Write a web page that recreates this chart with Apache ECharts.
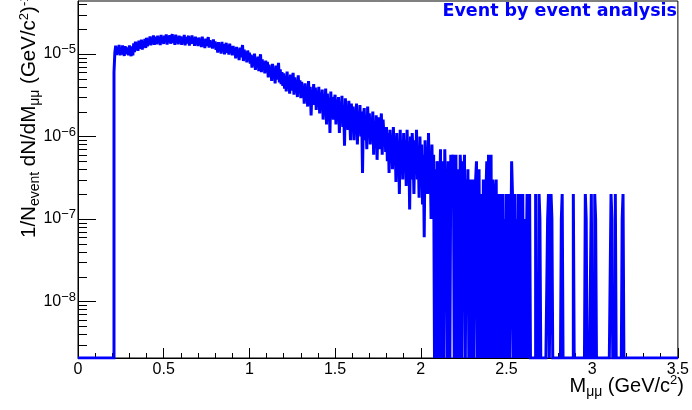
<!DOCTYPE html>
<html>
<head>
<meta charset="utf-8">
<script src="https://cdn.jsdelivr.net/npm/echarts@6/dist/echarts.min.js"></script>
<style>
  html, body { margin: 0; padding: 0; background: #ffffff; }
  #chart { width: 692px; height: 410px; }
</style>
</head>
<body>
<div id="chart"></div>
<script>
// Dimuon invariant-mass spectrum, 5 MeV/c^2 bins from 0 to 3.5 GeV/c^2
const massMin = 0;
const massMax = 3.5;
const binWidth = 0.005;

// 1/N_event dN/dM per bin, in units of 1e-7 (GeV/c^2)^-1 ; one row = 0.1 GeV/c^2
const densityE7 = [
  0, 0, 0, 0, 0, 0, 0, 0, 0, 0, 0, 0, 0, 0, 0, 0, 0, 0, 0, 0,
  0, 0, 0, 0, 0, 0, 0, 0, 0, 0, 0, 0, 0, 0, 0, 0, 0, 0, 0, 0,
  0, 0, 60, 104, 126, 97, 121, 100, 129, 96, 118, 98, 127, 102, 95, 124, 131, 99, 120, 96,
  127, 101, 94, 123, 96, 134, 105, 141, 112, 138, 109, 145, 116, 128, 149, 113, 142, 120, 152, 118,
  157, 124, 148, 130, 163, 127, 155, 134, 168, 129, 150, 162, 131, 166, 137, 159, 128, 170, 136, 161,
  132, 167, 141, 172, 130, 164, 138, 169, 133, 160, 174, 135, 165, 129, 171, 140, 158, 131, 166, 137,
  163, 129, 157, 138, 170, 127, 161, 134, 152, 166, 126, 159, 132, 168, 135, 150, 125, 162, 131, 156,
  124, 158, 130, 149, 121, 162, 127, 145, 118, 153, 125, 141, 160, 119, 147, 122, 138, 116, 150, 120,
  142, 112, 136, 104, 139, 115, 128, 101, 140, 109, 131, 99, 124, 136, 103, 127, 98, 133, 107, 121,
  96, 125, 101, 118, 88, 122, 94, 112, 84, 119, 91, 108, 128, 82, 113, 87, 106, 79, 110, 85,
  104, 76, 98, 68, 95, 72, 101, 64, 89, 70, 93, 62, 84, 99, 60, 86, 66, 79, 58, 83,
  63, 80, 52, 74, 57, 69, 47, 76, 51, 66, 44, 72, 49, 62, 78, 45, 65, 43, 60, 41,
  58, 38, 54, 35, 61, 40, 50, 33, 56, 36, 47, 59, 32, 52, 37, 45, 30, 55, 34, 48,
  29, 46, 33, 41, 25, 44, 30, 38, 23, 47, 28, 40, 18, 36, 27, 43, 24, 39, 21, 35,
  26, 40, 19, 34, 23, 37, 16, 31, 22, 38, 14, 33, 20, 29, 11, 35, 18, 30, 16, 27,
  32, 14, 28, 19, 30, 11, 26, 17, 31, 13, 24, 7.7, 29, 15, 22, 12, 27, 18, 9, 25,
  13, 23, 9, 21, 15, 25, 8, 19, 12, 24, 10, 20, 3.6, 17, 22, 9, 18, 7, 23, 11,
  19, 8, 16, 11, 20, 6, 15, 9, 18, 5.2, 14, 17, 7, 12, 19, 6, 16, 10, 13, 6.5,
  13, 5, 11, 3.6, 12, 7, 9, 4, 13, 6, 10, 2.8, 11, 5, 8, 2, 12, 4, 9, 3,
  11, 4, 9, 2.5, 12, 5, 8, 1.3, 10, 3, 11, 6, 2, 9, 4, 12, 3, 7, 1.8, 10,
  3, 8, 1.5, 6, 0.6, 9, 4, 7, 2, 11, 3, 5, 1, 8, 2, 6, 0, 4, 0, 5,
  4, 0, 2, 7, 0, 5, 3, 0, 7, 2, 4, 0, 5, 3, 0, 6, 2, 4, 6, 0,
  3, 6, 0, 4, 2, 0, 6, 3, 0, 5, 2, 6, 0, 3, 1, 4, 0, 2, 3, 0,
  2, 3, 0, 1, 3, 5, 0, 2, 4, 0, 1, 2, 0, 3, 1, 0, 2, 5, 0, 6,
  2, 0, 6, 0, 3, 1, 0, 2, 3, 0, 1, 2, 0, 2, 0, 1, 2, 0, 1, 0,
  2, 0, 1, 2, 0, 0, 5, 2, 0, 1, 2, 0, 1, 0, 2, 0, 2, 1, 0, 2,
  0, 1, 0, 0, 2, 0, 1, 2, 0, 0, 0, 0, 0, 0, 2, 0, 0, 0, 2, 1,
  0, 0, 0, 0, 0, 0, 0, 0, 1, 2, 0, 0, 2, 1, 0, 0, 0, 0, 0, 0,
  0, 0, 0, 0, 1, 2, 0, 0, 0, 0, 0, 0, 0, 0, 0, 0, 0, 0, 2, 0,
  0, 0, 0, 0, 0, 0, 0, 0, 0, 0, 0, 0, 2, 1, 0, 0, 0, 0, 0, 2,
  0, 0, 0, 2, 1, 0, 0, 0, 0, 0, 0, 0, 0, 0, 0, 0, 0, 0, 0, 0,
  0, 0, 2, 1, 0, 0, 0, 2, 0, 0, 0, 0, 0, 0, 0, 1, 2, 0, 0, 0,
  0, 0, 0, 0, 0, 0, 0, 0, 0, 0, 0, 0, 0, 0, 0, 0, 0, 0, 0, 0,
  0, 0, 0, 0, 0, 0, 0, 0, 0, 0, 0, 0, 0, 0, 0, 0, 0, 0, 0, 0,
  0, 0, 0, 0, 0, 0, 0, 0, 0, 0, 0, 0, 0, 0, 0, 0, 0, 0, 0, 0
];
const densityUnit = 1e-7;

// Axis ranges and tick steps
const xRange = [0, 3.5];
const xMajorStep = 0.5;
const yRange = [2.06e-9, 4.38e-5];
const yMinorMultipliers = [2, 3, 4, 5, 6, 7, 8, 9];

// Texts
const titleText = 'Event by event analysis';
const xTitle = 'M{sub|\u03bc\u03bc} (GeV/c{sup|2})';
const yTitle = '1/N{sub|event} dN/dM{sub|\u03bc\u03bc} (GeV/c{sup|2}){sup|-1}';

const FONT = '"Liberation Sans", Arial, Helvetica, sans-serif';
const TITLE_FONT = '"DejaVu Sans", "Liberation Sans", sans-serif';
const BLUE = '#0000ff';

// Histogram outline: each bin contributes its low and high edge at the bin height,
// so neighbouring bins are joined by vertical segments.
// Empty bins sit on the bottom of the frame, as in a log-scale histogram.
const histPoints = [];
densityE7.forEach((d, i) => {
  const lo = +(massMin + i * binWidth).toFixed(4);
  const hi = +(massMin + (i + 1) * binWidth).toFixed(4);
  const v = d > 0 ? d * densityUnit : yRange[0];
  histPoints.push([lo, v], [hi, v]);
});

// Log-axis minor tick values (2..9 x 10^n) inside the visible range
const yMinorTicks = [];
for (let e = -10; e <= -4; e++) {
  yMinorMultipliers.forEach(m => {
    const v = m * Math.pow(10, e);
    if (v > yRange[0] && v < yRange[1]) yMinorTicks.push([xRange[0], v]);
  });
}

const chart = echarts.init(document.getElementById('chart'), null, { renderer: 'canvas' });

const option = {
  backgroundColor: '#ffffff',
  animation: false,
  title: {
    text: titleText,
    right: 15,
    top: 2,
    padding: 0,
    textStyle: { color: BLUE, fontFamily: TITLE_FONT, fontWeight: 'bold', fontSize: 17.5 }
  },
  grid: {
    left: 78, right: 10, top: 1, bottom: 52,
    show: true, borderColor: '#000000', borderWidth: 1, backgroundColor: 'transparent'
  },
  xAxis: {
    type: 'value',
    min: xRange[0], max: xRange[1], interval: xMajorStep,
    axisLine: { show: true, onZero: false, lineStyle: { color: '#000000', width: 1 } },
    axisTick: { show: true, inside: true, length: 10, lineStyle: { color: '#000000', width: 1 } },
    minorTick: { show: true, splitNumber: 5, length: 5, lineStyle: { color: '#000000', width: 1 } },
    splitLine: { show: false },
    minorSplitLine: { show: false },
    axisLabel: { color: '#000000', fontFamily: FONT, fontSize: 16, margin: 4, showMinLabel: true, showMaxLabel: true }
  },
  yAxis: {
    type: 'log', logBase: 10,
    min: yRange[0], max: yRange[1],
    axisLine: { show: true, onZero: false, lineStyle: { color: '#000000', width: 1 } },
    axisTick: { show: true, inside: true, length: 18, lineStyle: { color: '#000000', width: 1 } },
    splitLine: { show: false },
    axisLabel: {
      color: '#000000', fontFamily: FONT, margin: 2,
      showMinLabel: false, showMaxLabel: false,
      formatter: v => {
        const lg = Math.log10(v);
        const e = Math.round(lg);
        if (Math.abs(lg - e) > 1e-6) return '';
        return '{b|10}{s|' + (e < 0 ? '\u2212' : '') + Math.abs(e) + '}';
      },
      rich: {
        b: { fontFamily: FONT, fontSize: 16, color: '#000000' },
        s: { fontFamily: FONT, fontSize: 13, color: '#000000', padding: [0, 0, 8, 0] }
      }
    }
  },
  graphic: [
    {
      type: 'text', x: 684, y: 386, silent: true,
      style: {
        text: xTitle, align: 'right', verticalAlign: 'middle',
        fontFamily: FONT, fontSize: 20, fill: '#000000',
        rich: {
          sub: { fontFamily: FONT, fontSize: 14, fill: '#000000', padding: [12, 0, 0, 0] },
          sup: { fontFamily: FONT, fontSize: 13, fill: '#000000', padding: [0, 0, 11, 0] }
        }
      }
    },
    {
      type: 'text', x: 29.5, y: 238, rotation: Math.PI / 2, silent: true,
      style: {
        text: yTitle, align: 'left', verticalAlign: 'middle',
        fontFamily: FONT, fontSize: 20.5, fill: '#000000',
        rich: {
          sub: { fontFamily: FONT, fontSize: 14, fill: '#000000', padding: [12, 0, 0, 0] },
          sup: { fontFamily: FONT, fontSize: 13, fill: '#000000', padding: [0, 0, 11, 0] }
        }
      }
    }
  ],
  series: [
    {
      name: 'dimuon',
      type: 'line',
      data: histPoints,
      showSymbol: false,
      symbol: 'none',
      clip: true,
      lineStyle: { color: BLUE, width: 3, join: 'miter', miterLimit: 4 },
      z: 3
    },
    {
      name: 'yMinorTicks',
      type: 'custom',
      data: yMinorTicks,
      silent: true,
      clip: false,
      z: 4,
      renderItem: (params, api) => {
        const p = api.coord([api.value(0), api.value(1)]);
        const y = Math.round(p[1]) + 0.5;
        return {
          type: 'line',
          shape: { x1: p[0], y1: y, x2: p[0] + 9, y2: y },
          style: { stroke: '#000000', lineWidth: 1 }
        };
      }
    }
  ]
};

chart.setOption(option);
</script>
</body>
</html>
